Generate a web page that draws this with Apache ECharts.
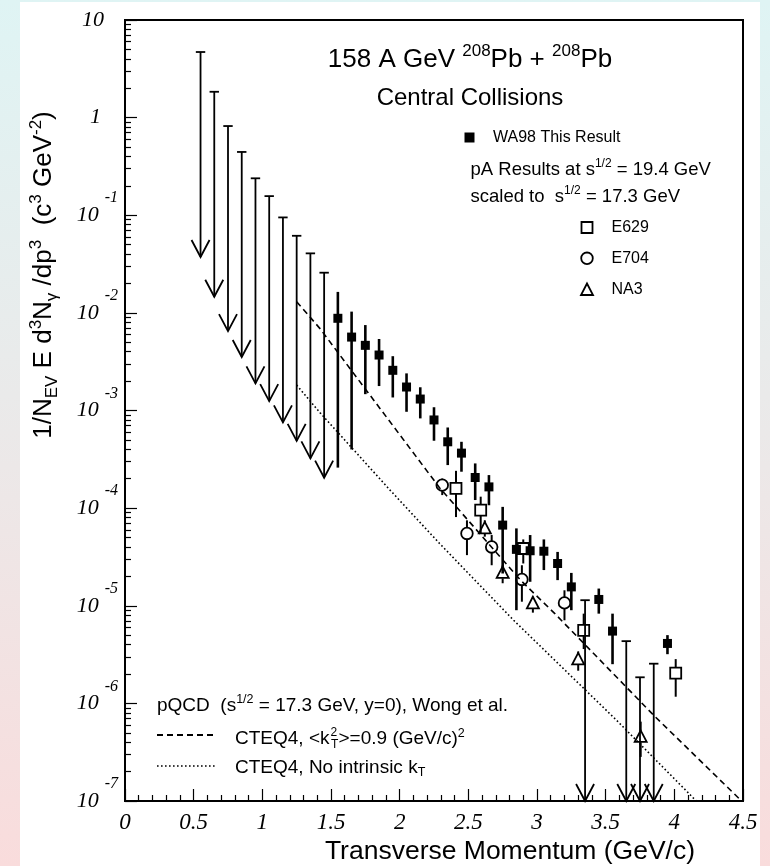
<!DOCTYPE html>
<html>
<head>
<meta charset="utf-8">
<script src="https://cdn.jsdelivr.net/npm/echarts@6/dist/echarts.min.js"></script>
<style>
  html, body { margin: 0; padding: 0; width: 770px; height: 866px; overflow: hidden;
    background: linear-gradient(to bottom, #dff4f4 0%, #ebe9e9 50%, #f9dcdc 100%); }
  #panel { position: absolute; left: 20px; top: 2px; width: 740px; height: 864px; background: #fff; }
  #chart { position: absolute; left: 0; top: 0; width: 770px; height: 866px; }
</style>
</head>
<body>
<div id="panel"></div>
<div id="chart"></div>
<script>
// ---- WA98 direct photons, central 158 A GeV Pb+Pb (pT in GeV/c, yield in c^3 GeV^-2) ----
const wa98Pt  = [1.55, 1.65, 1.75, 1.85, 1.95, 2.05, 2.15, 2.25, 2.35, 2.45, 2.55, 2.65, 2.75, 2.85, 2.95, 3.05, 3.15, 3.25, 3.45, 3.55, 3.95];
const wa98Val = [8.8e-3, 5.65e-3, 4.65e-3, 3.70e-3, 2.58e-3, 1.74e-3, 1.31e-3, 8.0e-4, 4.78e-4, 3.66e-4, 2.06e-4, 1.65e-4, 6.7e-5, 3.78e-5, 3.66e-5, 3.62e-5, 2.71e-5, 1.56e-5, 1.16e-5, 5.5e-6, 4.11e-6];
const wa98Lo  = [2.6e-4, 3.99e-4, 1.47e-3, 1.78e-3, 1.36e-3, 9.7e-4, 8.3e-4, 4.9e-4, 2.76e-4, 2.36e-4, 1.21e-4, 1.07e-4, 2.14e-5, 9.0e-6, 1.76e-5, 2.32e-5, 1.83e-5, 9.0e-6, 8.3e-6, 2.52e-6, 3.19e-6];
const wa98Hi  = [1.64e-2, 1.03e-2, 7.5e-3, 5.4e-3, 3.6e-3, 2.4e-3, 1.73e-3, 1.08e-3, 6.7e-4, 4.78e-4, 2.87e-4, 2.18e-4, 1.03e-4, 6.2e-5, 5.3e-5, 4.78e-5, 3.56e-5, 2.17e-5, 1.50e-5, 8.3e-6, 5.0e-6];

// WA98 90% CL upper limits
const wa98UlPt  = [0.55, 0.65, 0.75, 0.85, 0.95, 1.05, 1.15, 1.25, 1.35, 1.45, 3.35, 3.65, 3.75, 3.85];
const wa98UlVal = [4.7, 1.84, 0.82, 0.445, 0.239, 0.157, 0.095, 0.0616, 0.0407, 0.0258, 1.14e-5, 4.34e-6, 1.85e-6, 2.55e-6];

// p-A results at sqrt(s) = 19.4 GeV scaled to 17.3 GeV
const e629Pt  = [2.41, 2.59, 2.90, 3.34, 4.01];
const e629Val = [1.59e-4, 9.55e-5, 3.86e-5, 5.6e-6, 2.04e-6];
const e629Lo  = [8.1e-5, 5.5e-5, 2.71e-5, 3.6e-6, 1.17e-6];
const e629Hi  = [2.41e-4, 1.31e-4, 4.78e-5, 8.3e-6, 2.84e-6];

const e704Pt  = [2.31, 2.49, 2.67, 2.89, 3.20];
const e704Val = [1.72e-4, 5.5e-5, 4.0e-5, 1.86e-5, 1.07e-5];
const e704Lo  = [1.36e-4, 3.3e-5, 2.6e-5, 1.10e-5, 7.1e-6];
const e704Hi  = [2.01e-4, 7.5e-5, 5.3e-5, 2.6e-5, 1.44e-5];

const na3Pt  = [2.62, 2.75, 2.97, 3.30, 3.755];
const na3Val = [6.2e-5, 2.17e-5, 1.06e-5, 2.82e-6, 4.54e-7];
const na3Lo  = [5.1e-5, 1.7e-5, 8.5e-6, 2.16e-6, 2.83e-7];
const na3Hi  = [7.5e-5, 2.6e-5, 1.24e-5, 3.4e-6, 6.5e-7];

// pQCD (Wong et al.), CTEQ4
const ktPt   = [1.25, 1.42, 2.29, 2.88, 3.13, 3.86, 4.49];
const ktVal  = [1.30e-2, 6.9e-3, 1.62e-4, 1.83e-5, 8.3e-6, 7.3e-7, 1.0e-7];
const noKtPt  = [1.25, 1.42, 1.93, 2.29, 2.83, 3.58, 4.16];
const noKtVal = [1.82e-3, 9.5e-4, 1.53e-4, 4.35e-5, 7.1e-6, 6.7e-7, 1.0e-7];

// axis ticks
const xTickLabels = ['0', '0.5', '1', '1.5', '2', '2.5', '3', '3.5', '4', '4.5'];
const yTickExponents = [-7, -6, -5, -4, -3, -2, -1, 0, 1];

const Y_MIN = 1e-7, Y_MAX = 10;
const ARROW_DECADES = 2.1;   // drawn length of an upper-limit arrow, in decades
const INK = '#000';
const SANS = '"Liberation Sans", Arial, sans-serif';
const SERIF = '"Liberation Serif", "Times New Roman", serif';

function rows(pt, val, lo, hi) {
  return pt.map((p, i) => lo ? [p, val[i], lo[i], hi[i]] : [p, val[i]]);
}

// vertical error bar that stops at the marker outline
function errorBar(api, half) {
  const p = api.value(0);
  const c = api.coord([p, api.value(1)]);
  const lo = api.coord([p, api.value(2)]);
  const hi = api.coord([p, api.value(3)]);
  const out = [];
  if (hi[1] < c[1] - half) out.push({ type: 'line', shape: { x1: c[0], y1: hi[1], x2: c[0], y2: c[1] - half }, style: { stroke: INK, lineWidth: 2 } });
  if (lo[1] > c[1] + half) out.push({ type: 'line', shape: { x1: c[0], y1: c[1] + half, x2: c[0], y2: lo[1] }, style: { stroke: INK, lineWidth: 2 } });
  return { c, out };
}

const openStyle = { stroke: INK, lineWidth: 1.8, fill: 'none' };

const series = [
  {
    type: 'line', name: 'CTEQ4 kT', data: rows(ktPt, ktVal), symbol: 'none', z: 2, silent: true,
    lineStyle: { color: INK, width: 1.6, type: [6, 4] }
  },
  {
    type: 'line', name: 'CTEQ4 no kT', data: rows(noKtPt, noKtVal), symbol: 'none', z: 2, silent: true,
    lineStyle: { color: INK, width: 1.6, type: [1.6, 2.4] }
  },
  {
    type: 'custom', name: 'WA98', data: rows(wa98Pt, wa98Val, wa98Lo, wa98Hi), encode: { x: 0, y: 1 }, z: 4,
    renderItem(params, api) {
      const p = api.value(0);
      const c = api.coord([p, api.value(1)]);
      const lo = api.coord([p, api.value(2)]);
      const hi = api.coord([p, api.value(3)]);
      return { type: 'group', children: [
        { type: 'line', shape: { x1: c[0], y1: hi[1], x2: c[0], y2: lo[1] }, style: { stroke: INK, lineWidth: 2.6 } },
        { type: 'rect', shape: { x: c[0] - 4.5, y: c[1] - 4.5, width: 9, height: 9 }, style: { fill: INK } }
      ] };
    }
  },
  {
    type: 'custom', name: 'WA98 upper limits', data: rows(wa98UlPt, wa98UlVal), encode: { x: 0, y: 1 }, z: 4,
    renderItem(params, api) {
      const p = api.value(0);
      const lim = api.value(1);
      const tipVal = Math.max(lim / Math.pow(10, ARROW_DECADES), Y_MIN);
      const top = api.coord([p, lim]);
      const tip = api.coord([p, tipVal]);
      const x = top[0];
      const s = { stroke: INK, lineWidth: 1.8 };
      return { type: 'group', children: [
        { type: 'line', shape: { x1: x - 4.7, y1: top[1], x2: x + 4.7, y2: top[1] }, style: s },
        { type: 'line', shape: { x1: x, y1: top[1], x2: x, y2: tip[1] }, style: s },
        { type: 'polyline', shape: { points: [[x - 9, tip[1] - 17], [x, tip[1]], [x + 9, tip[1] - 17]] }, style: { stroke: INK, lineWidth: 1.8, fill: 'none' } }
      ] };
    }
  },
  {
    type: 'custom', name: 'E629', data: rows(e629Pt, e629Val, e629Lo, e629Hi), encode: { x: 0, y: 1 }, z: 5,
    renderItem(params, api) {
      const { c, out } = errorBar(api, 5.5);
      out.push({ type: 'rect', shape: { x: c[0] - 5.5, y: c[1] - 5.5, width: 11, height: 11 }, style: openStyle });
      return { type: 'group', children: out };
    }
  },
  {
    type: 'custom', name: 'E704', data: rows(e704Pt, e704Val, e704Lo, e704Hi), encode: { x: 0, y: 1 }, z: 5,
    renderItem(params, api) {
      const { c, out } = errorBar(api, 5.8);
      out.push({ type: 'circle', shape: { cx: c[0], cy: c[1], r: 5.8 }, style: openStyle });
      return { type: 'group', children: out };
    }
  },
  {
    type: 'custom', name: 'NA3', data: rows(na3Pt, na3Val, na3Lo, na3Hi), encode: { x: 0, y: 1 }, z: 5,
    renderItem(params, api) {
      const { c, out } = errorBar(api, 5.5);
      out.push({ type: 'polygon', shape: { points: [[c[0], c[1] - 6.5], [c[0] - 6, c[1] + 5], [c[0] + 6, c[1] + 5]] }, style: openStyle });
      return { type: 'group', children: out };
    }
  }
];

// ---- text helpers ----
function richSet(size, supSize, lift, family) {
  const lh = supSize + 2 * lift;
  return {
    lineHeight: lh,
    rich: {
      m: { fontSize: size, fontFamily: family, lineHeight: lh, fill: INK },
      sup: { fontSize: supSize, fontFamily: family, lineHeight: supSize, verticalAlign: 'top', fill: INK },
      sub: { fontSize: supSize, fontFamily: family, lineHeight: supSize, verticalAlign: 'bottom', fill: INK }
    }
  };
}

function label(x, y, text, size, opts) {
  opts = opts || {};
  const rs = richSet(size, opts.sup || Math.round(size * 0.65), opts.lift || Math.round(size * 0.3), SANS);
  return {
    type: 'text', x, y, rotation: opts.rotation || 0, silent: true, z: 10,
    style: Object.assign({
      text, fontSize: size, fontFamily: SANS, fill: INK,
      align: opts.align || 'left', verticalAlign: 'middle'
    }, rs)
  };
}

const graphic = [
  label(470, 60, '158 A GeV {sup|208}Pb + {sup|208}Pb', 26, { align: 'center', sup: 17, lift: 9 }),
  label(470, 98, 'Central Collisions', 24, { align: 'center' }),

  { type: 'rect', shape: { x: 464.5, y: 132.5, width: 10, height: 10 }, style: { fill: INK }, silent: true },
  label(493, 137.5, 'WA98 This Result', 16),
  label(470.5, 170, 'pA Results at s{sup|1/2} = 19.4 GeV', 18.5, { sup: 12, lift: 6 }),
  label(470.5, 197, 'scaled to  s{sup|1/2} = 17.3 GeV', 18.5, { sup: 12, lift: 6 }),

  { type: 'rect', shape: { x: 581.5, y: 222, width: 11, height: 11 }, style: openStyle, silent: true },
  label(611.5, 227.5, 'E629', 16),
  { type: 'circle', shape: { cx: 587, cy: 258.3, r: 5.8 }, style: openStyle, silent: true },
  label(611.5, 258.5, 'E704', 16),
  { type: 'polygon', shape: { points: [[587, 283.5], [581, 295], [593, 295]] }, style: openStyle, silent: true },
  label(611.5, 290, 'NA3', 16),

  label(157, 705.5, 'pQCD  (s{sup|1/2} = 17.3 GeV, y=0), Wong et al.', 19, { sup: 12.5, lift: 6 }),
  { type: 'line', shape: { x1: 157, y1: 735, x2: 216, y2: 735 }, style: { stroke: INK, lineWidth: 2, lineDash: [6, 4] }, silent: true },
  label(235, 739, 'CTEQ4, <k', 19),
  label(330.5, 732.5, '2', 12),
  label(331, 745, 'T', 12),
  label(338.5, 739, '>=0.9 (GeV/c){sup|2}', 19, { sup: 12.5, lift: 6 }),
  { type: 'line', shape: { x1: 157, y1: 766, x2: 216, y2: 766 }, style: { stroke: INK, lineWidth: 1.6, lineDash: [1.6, 2.4] }, silent: true },
  label(235, 768, 'CTEQ4, No intrinsic k{sub|T}', 19, { sup: 12.5, lift: 5 }),

  label(695, 852, 'Transverse Momentum (GeV/c)', 26.5, { align: 'right' }),
  label(44, 275, '1/N{sub|EV} E d{sup|3}N{sub|γ} /dp{sup|3}  (c{sup|3} GeV{sup|-2})', 26, { rotation: Math.PI / 2, align: 'center', sup: 17, lift: 8 })
];

const serifLabel = { fontFamily: SERIF, fontStyle: 'italic', color: INK };

const option = {
  backgroundColor: 'transparent',
  animation: false,
  grid: { left: 125, top: 20, width: 618, height: 781, show: true, borderColor: INK, borderWidth: 2,
          backgroundColor: 'transparent', containLabel: false, outerBoundsMode: 'none' },
  xAxis: {
    type: 'value', min: 0, max: 4.5, interval: 0.5,
    axisLine: { show: true, onZero: false, lineStyle: { color: INK, width: 2 } },
    axisTick: { show: true, inside: true, length: 12, lineStyle: { color: INK, width: 1.2 } },
    minorTick: { show: true, splitNumber: 5, length: 6, lineStyle: { color: INK, width: 1.2 } },
    splitLine: { show: false }, minorSplitLine: { show: false },
    axisLabel: Object.assign({ margin: 10, fontSize: 23, showMinLabel: true, showMaxLabel: true,
      formatter: v => xTickLabels[Math.round(v / 0.5)] }, serifLabel)
  },
  yAxis: {
    type: 'log', logBase: 10, min: Y_MIN, max: Y_MAX, splitNumber: 8,
    axisLine: { show: true, onZero: false, lineStyle: { color: INK, width: 2 } },
    axisTick: { show: true, inside: true, length: 12, lineStyle: { color: INK, width: 1.2 } },
    minorTick: { show: true, splitNumber: 9, length: 6, lineStyle: { color: INK, width: 1.2 } },
    splitLine: { show: false }, minorSplitLine: { show: false },
    axisLabel: {
      margin: 7, showMinLabel: true, showMaxLabel: true,
      formatter: v => {
        const k = Math.round(Math.log10(v));
        if (yTickExponents.indexOf(k) < 0) return '';
        if (k === 1) return '{p10|10}';
        if (k === 0) return '{p1|1}';
        return '{b|10}{e|' + k + '}';
      },
      rich: {
        b:   Object.assign({ fontSize: 22, lineHeight: 50 }, serifLabel),
        e:   Object.assign({ fontSize: 16, lineHeight: 16, verticalAlign: 'top', padding: [0, 0, 0, 6] }, serifLabel),
        p10: Object.assign({ fontSize: 22, lineHeight: 50, padding: [0, 14, 0, 0] }, serifLabel),
        p1:  Object.assign({ fontSize: 22, lineHeight: 50, padding: [0, 17, 0, 0] }, serifLabel)
      }
    }
  },
  graphic,
  series
};

const chart = echarts.init(document.getElementById('chart'), null, { renderer: 'canvas' });
chart.setOption(option);
</script>
</body>
</html>
